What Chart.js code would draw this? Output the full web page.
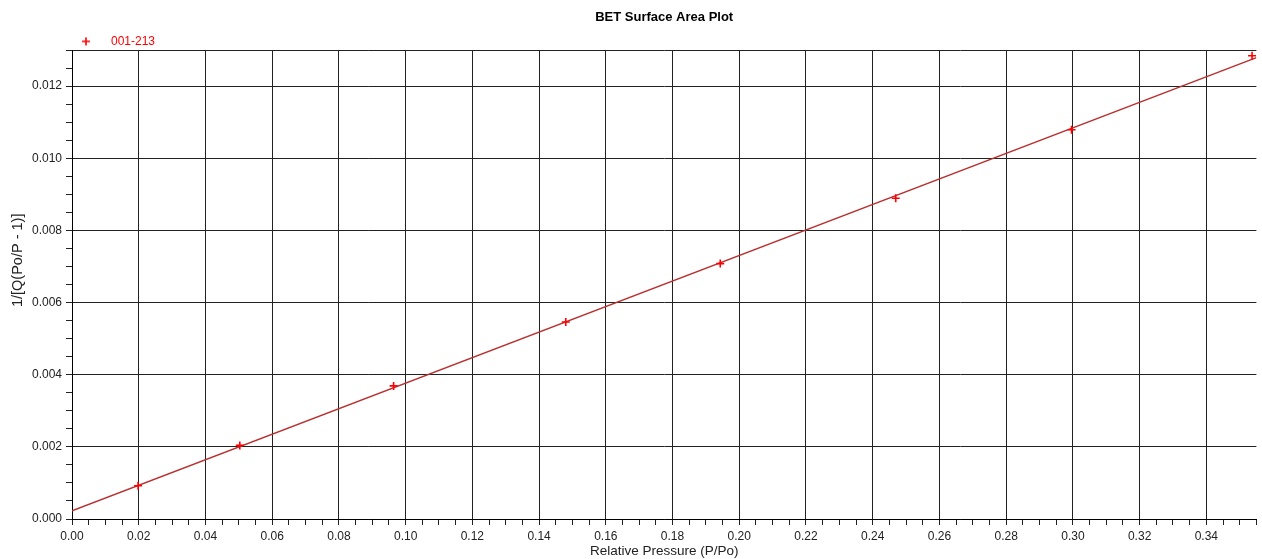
<!DOCTYPE html>
<html>
<head>
<meta charset="utf-8">
<script src="https://cdn.jsdelivr.net/npm/chart.js@4.4.1/dist/chart.umd.min.js"></script>
<style>
  html, body { margin: 0; padding: 0; background: #fff; }
  #wrap { width: 1262px; height: 559px; }
</style>
</head>
<body>
<div id="wrap"><canvas id="betChart"></canvas></div>
<script>
// measured points
const relPressure = [0.0198, 0.0503, 0.0964, 0.1480, 0.1943, 0.2469, 0.2996, 0.3537];
const betValues   = [0.00092, 0.00204, 0.00369, 0.00546, 0.00708, 0.00889, 0.01079, 0.01284];
// fitted line ends
const fitX = [0, 0.355];
const fitY = [0.00023, 0.01279];

const seriesName = '001-213';
const xMax = 0.355;
const yMax = 0.013;

// legend marker: red cross, offset to the left inside its box
function legendCross() {
    const c = document.createElement('canvas');
    c.width = 20; c.height = 12;
    const g = c.getContext('2d');
    g.strokeStyle = '#ff0000';
    g.lineWidth = 1.6;
    g.beginPath();
    g.moveTo(2, 6); g.lineTo(10, 6);
    g.moveTo(6, 2); g.lineTo(6, 10);
    g.stroke();
    return c;
}
const crossImg = legendCross();

const isMajorX = v => Math.round(v / 0.005) % 4 === 0;
const isMajorY = v => Math.round(v / 0.0005) % 4 === 0;

const ctx = document.getElementById('betChart');
new Chart(ctx, {
    type: 'scatter',
    data: {
        datasets: [
            {
                label: seriesName,
                data: relPressure.map((x, i) => ({ x: x, y: betValues[i] })),
                pointStyle: 'cross',
                pointRadius: 4,
                pointHoverRadius: 4,
                borderWidth: 1.6,
                borderColor: '#ff0000',
                backgroundColor: '#ff0000',
                order: 0
            },
            {
                type: 'line',
                label: 'fit',
                data: fitX.map((x, i) => ({ x: x, y: fitY[i] })),
                borderColor: '#b83030',
                borderWidth: 1.5,
                pointRadius: 0,
                fill: false,
                order: 1
            }
        ]
    },
    options: {
        responsive: true,
        maintainAspectRatio: false,
        animation: false,
        layout: { padding: { left: 0, right: 5, top: 0, bottom: 0 } },
        plugins: {
            title: {
                display: true,
                fullSize: false,
                text: 'BET Surface Area Plot',
                color: '#000',
                font: { family: 'Liberation Sans', size: 13, weight: 'bold' },
                padding: { top: 10, bottom: 6.8 }
            },
            legend: {
                position: 'top',
                align: 'start',
                fullSize: false,
                maxHeight: 17.6,
                labels: {
                    usePointStyle: true,
                    pointStyleWidth: 30,
                    padding: 3,
                    color: '#ff0000',
                    font: { family: 'Liberation Sans', size: 12 },
                    generateLabels: function(chart) {
                        return [{
                            text: seriesName,
                            fontColor: '#ff0000',
                            pointStyle: crossImg,
                            strokeStyle: '#ff0000',
                            fillStyle: '#ff0000',
                            lineWidth: 0,
                            datasetIndex: 0,
                            hidden: false
                        }];
                    }
                }
            },
            tooltip: { enabled: false }
        },
        scales: {
            x: {
                type: 'linear',
                min: 0,
                max: xMax,
                afterFit: s => { s.height = 40; },
                border: { display: true, color: '#000', width: 1 },
                grid: {
                    color: c => isMajorX(c.tick.value) ? '#222' : 'rgba(0,0,0,0)',
                    tickColor: '#222',
                    tickLength: 6,
                    lineWidth: 1
                },
                ticks: {
                    stepSize: 0.005,
                    autoSkip: false,
                    maxRotation: 0,
                    padding: 4,
                    color: '#222',
                    font: { family: 'Liberation Sans', size: 12 },
                    callback: v => isMajorX(v) ? v.toFixed(2) : ''
                },
                title: {
                    display: true,
                    text: 'Relative Pressure (P/Po)',
                    color: '#222',
                    font: { family: 'Liberation Sans', size: 13.5 },
                    padding: { top: 0, bottom: 0 }
                }
            },
            y: {
                type: 'linear',
                min: 0,
                max: yMax,
                afterFit: s => { s.width = 72; },
                border: { display: true, color: '#000', width: 1 },
                grid: {
                    color: c => (isMajorY(c.tick.value) || Math.abs(c.tick.value - yMax) < 1e-7) ? '#222' : 'rgba(0,0,0,0)',
                    tickColor: '#222',
                    tickLength: 6,
                    lineWidth: 1
                },
                ticks: {
                    stepSize: 0.0005,
                    autoSkip: false,
                    padding: 4,
                    color: '#222',
                    font: { family: 'Liberation Sans', size: 12 },
                    callback: v => isMajorY(v) ? v.toFixed(3) : ''
                },
                title: {
                    display: true,
                    // leading blanks push the rotated title up a little, as in the source plot
                    text: '            1/[Q(Po/P - 1)]',
                    color: '#222',
                    font: { family: 'Liberation Sans', size: 14.5 },
                    padding: { top: 9, bottom: 0 }
                }
            }
        }
    }
});
</script>
</body>
</html>
